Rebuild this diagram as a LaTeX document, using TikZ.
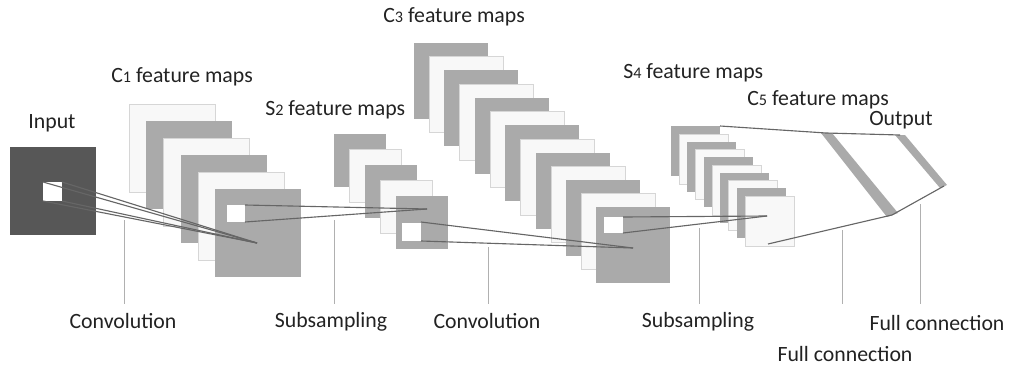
\documentclass[tikz,border=0pt]{standalone}
\usepackage{fontspec}
\setmainfont{Carlito}
\usetikzlibrary{positioning}
\definecolor{inputgray}{HTML}{575757}
\definecolor{mapgray}{HTML}{AAAAAA}
\definecolor{mapwhite}{HTML}{F8F8F8}
\definecolor{mapedge}{HTML}{D6D6D6}
\definecolor{linkgray}{HTML}{666666}
\definecolor{tickgray}{HTML}{B0B0B0}
\definecolor{txtgray}{HTML}{222222}
\newcommand\idx[1]{{\fontsize{11.5}{11.5}\selectfont #1}}
% one stack of maps: count, x, y, dx, dy, w, h
\newcommand\mapstack[7]{%
  \foreach \i in {1,...,#1}{%
    \pgfmathsetmacro\px{#2+(\i-1)*#4}
    \pgfmathsetmacro\py{#3+(\i-1)*#5}
    \ifodd\i\def\mapstyle{oddmap}\else\def\mapstyle{evenmap}\fi
    \draw[\mapstyle] (\px,\py) rectangle ++(#6,#7);
  }}

\begin{document}
\begin{tikzpicture}[x=0.025cm,y=-0.025cm,
  lbl/.style={font=\fontsize{15.5}{18}\selectfont, text=txtgray, inner sep=0pt},
  graymap/.style={fill=mapgray, draw=none},
  whitemap/.style={fill=mapwhite, draw=mapedge, line width=0.4pt},
  field/.style={fill=white, draw=none},
  link/.style={draw=linkgray, line width=0.8pt},
  tick/.style={draw=tickgray, line width=0.7pt}]

  \useasboundingbox (0,0) rectangle (1011,368);

  %%%%% input %%%%%
  \fill[inputgray] (10,147) rectangle (96,235);
  \fill[field] (43,182) rectangle (62,201);
  \coordinate (f0nw) at (43,182); \coordinate (f0ne) at (62,182);
  \coordinate (f0sw) at (43,201); \coordinate (f0se) at (62,201);

  %%%%% C1 %%%%%
  \tikzset{oddmap/.style=whitemap, evenmap/.style=graymap}
  \mapstack{6}{129}{104}{17.2}{17}{86}{88}
  \fill[field] (227,205) rectangle (245,222);
  \coordinate (f1ne) at (245,205); \coordinate (f1se) at (245,222);
  \coordinate (p1) at (257,243);

  %%%%% S2 %%%%%
  \tikzset{oddmap/.style=graymap, evenmap/.style=whitemap}
  \mapstack{5}{334}{134}{15.5}{15.5}{52}{53}
  \fill[field] (402,223) rectangle (421,241);
  \coordinate (f2ne) at (421,222); \coordinate (f2se) at (421,241);
  \coordinate (p2) at (427,209);

  %%%%% C3 %%%%%
  \mapstack{13}{414}{43}{15.2}{13.7}{74}{76}
  \fill[field] (604,217) rectangle (623,233);
  \coordinate (f3ne) at (623,217); \coordinate (f3se) at (623,233);
  \coordinate (p3) at (633,248);

  %%%%% S4 %%%%%
  \mapstack{10}{671}{126}{8.2}{7.8}{49}{50}
  \coordinate (s4top) at (720,126);
  \coordinate (s4bot) at (768,244);
  \coordinate (p4) at (767,216);

  %%%%% C5 and output %%%%%
  \fill[mapgray] (821,133) -- (832,133) -- (898,213) -- (887,217) -- cycle;
  \fill[mapgray] (895,135) -- (905,135) -- (947,185) -- (940,188) -- cycle;
  \coordinate (c5top) at (826,133); \coordinate (c5bot) at (892,215);
  \coordinate (outtop) at (900,135); \coordinate (outbot) at (944,186);

  %%%%% links %%%%%
  \foreach \c in {f0nw,f0ne,f0se,f0sw} \draw[link] (\c) -- (p1);
  \draw[link] (f1ne) -- (p2);
  \draw[link] (f1se) -- (p2);
  \draw[link] (f2ne) -- (p3);
  \draw[link] (f2se) -- (p3);
  \draw[link] (f3ne) -- (p4);
  \draw[link] (f3se) -- (p4);
  \draw[link] (s4top) -- (c5top) -- (outtop);
  \draw[link] (s4bot) -- (c5bot) -- (outbot);

  %%%%% labels %%%%%
  \node[lbl, anchor=base] (lin) at (52,128) {Input};
  \node[lbl, anchor=base west] (lc1) at (111,82) {C\idx{1} feature maps};
  \node[lbl, anchor=base west] (ls2) at (265,115) {S\idx{2} feature maps};
  \node[lbl, anchor=base west] (lc3) at (383,22) {C\idx{3} feature maps};
  \node[lbl, anchor=base west] (ls4) at (623,78) {S\idx{4} feature maps};
  \node[lbl, anchor=base west] (lc5) at (747,105) {C\idx{5} feature maps};
  \node[lbl, anchor=base west] (lout) at (869,125) {Output};

  \node[lbl, anchor=base] (conv1) at (123,328) {Convolution};
  \node[lbl, anchor=base] (sub1) at (331,327) {Subsampling};
  \node[lbl, anchor=base] (conv2) at (487,328) {Convolution};
  \node[lbl, anchor=base] (sub2) at (698,327) {Subsampling};
  \node[lbl, anchor=base] (full2) at (937,330) {Full connection};
  \node[lbl, anchor=base] (full1) at (845,361) {Full connection};

  %%%%% ticks %%%%%
  \coordinate (t1) at (124,220);
  \coordinate (t2) at (334,220);
  \coordinate (t3) at (488,247);
  \coordinate (t4) at (699,228);
  \coordinate (t5) at (842,230);
  \coordinate (t6) at (920,204);
  \foreach \t in {t1,t2,t3,t4,t5,t6} \draw[tick] (\t) -- (\t |- 0,304);
\end{tikzpicture}
\end{document}
